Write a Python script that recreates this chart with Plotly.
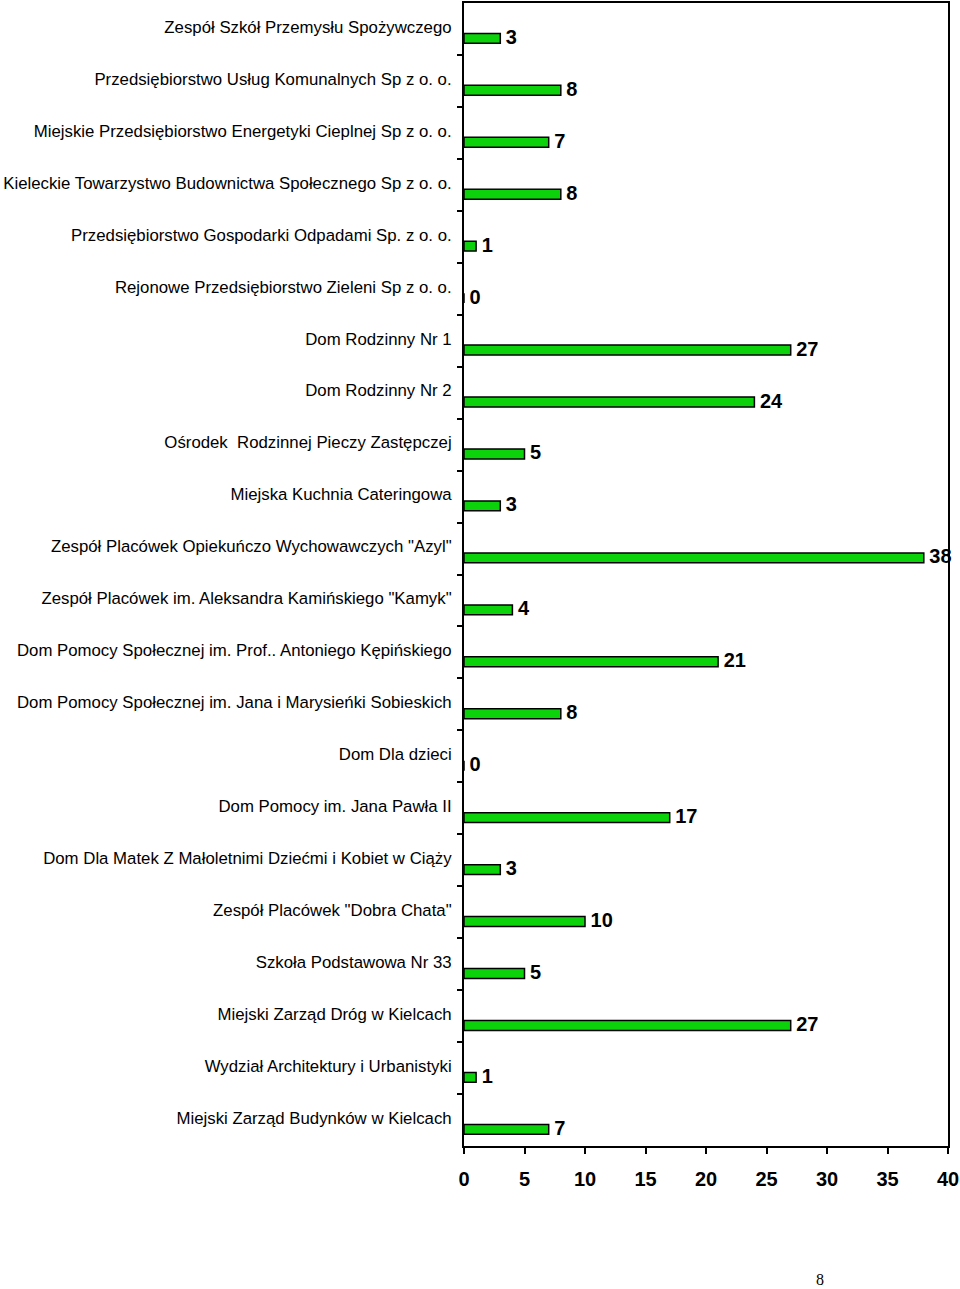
import plotly.graph_objects as go

categories = [
    "Zespół Szkół Przemysłu Spożywczego",
    "Przedsiębiorstwo Usług Komunalnych Sp z o. o.",
    "Miejskie Przedsiębiorstwo Energetyki Cieplnej Sp z o. o.",
    "Kieleckie Towarzystwo Budownictwa Społecznego Sp z o. o.",
    "Przedsiębiorstwo Gospodarki Odpadami Sp. z o. o.",
    "Rejonowe Przedsiębiorstwo Zieleni Sp z o. o.",
    "Dom Rodzinny Nr 1",
    "Dom Rodzinny Nr 2",
    "Ośrodek  Rodzinnej Pieczy Zastępczej",
    "Miejska Kuchnia Cateringowa",
    "Zespół Placówek Opiekuńczo Wychowawczych \"Azyl\"",
    "Zespół Placówek im. Aleksandra Kamińskiego \"Kamyk\"",
    "Dom Pomocy Społecznej im. Prof.. Antoniego Kępińskiego",
    "Dom Pomocy Społecznej im. Jana i Marysieńki Sobieskich",
    "Dom Dla dzieci",
    "Dom Pomocy im. Jana Pawła II",
    "Dom Dla Matek Z Małoletnimi Dziećmi i Kobiet w Ciąży",
    "Zespół Placówek \"Dobra Chata\"",
    "Szkoła Podstawowa Nr 33",
    "Miejski Zarząd Dróg w Kielcach",
    "Wydział Architektury i Urbanistyki",
    "Miejski Zarząd Budynków w Kielcach",
]
values = [3, 8, 7, 8, 1, 0, 27, 24, 5, 3, 38, 4, 21, 8, 0, 17, 3, 10, 5, 27, 1, 7]
x_ticks = [0, 5, 10, 15, 20, 25, 30, 35, 40]
page_number = "8"

n = len(categories)
pos = list(range(n))

L, R, T, B = 464, 12, 3, 143
W, H = 960, 1289

fig = go.Figure()
fig.add_trace(go.Bar(
    x=values, y=pos, orientation="h",
    width=0.19, offset=0.085,
    marker=dict(color="#0cd20c", line=dict(color="black", width=1.5)),
    hoverinfo="skip",
))
fig.add_trace(go.Scatter(
    x=values, y=[p + 0.19 for p in pos], mode="text",
    text=[" " + str(v) for v in values], textposition="middle right",
    textfont=dict(family="Liberation Sans, Arial", size=20, color="black", weight="bold"),
    cliponaxis=False, hoverinfo="skip",
))

fig.update_layout(
    width=W, height=H,
    margin=dict(l=L, r=R, t=T, b=B, autoexpand=False),
    plot_bgcolor="white", paper_bgcolor="white",
    showlegend=False,
    font=dict(family="Liberation Sans, Arial", color="black"),
)
fig.update_xaxes(
    range=[0, 40], tickvals=x_ticks, ticktext=[str(t) for t in x_ticks],
    showgrid=False, zeroline=False, automargin=False,
    showline=True, linecolor="black", linewidth=2, mirror=True,
    ticks="outside", ticklen=6, tickwidth=2, tickcolor="black",
    tickfont=dict(size=20, weight="bold"), ticklabelstandoff=8,
)
fig.update_yaxes(
    range=[n - 0.5, -0.5],
    tickvals=[p - 0.04 for p in pos], ticktext=categories,
    ticks="", showgrid=False, zeroline=False, automargin=False,
    showline=True, linecolor="black", linewidth=2, mirror=True,
    tickfont=dict(size=16.8), ticklabelstandoff=7,
    minor=dict(tickvals=[p + 0.5 for p in pos[:-1]], ticks="outside", ticklen=5,
               tickwidth=2, tickcolor="black", showgrid=False),
)
plot_w = W - L - R
plot_h = H - T - B
fig.add_annotation(
    x=(820 - L) / plot_w, y=(H - B - 1279) / plot_h, xref="paper", yref="paper",
    xanchor="center", yanchor="middle", borderpad=0,
    text=page_number, showarrow=False,
    font=dict(family="Liberation Serif, Times New Roman", size=16, color="black"),
)
fig.write_html("out.html", post_script="document.body.style.margin='0';",
               config={"displayModeBar": False})
